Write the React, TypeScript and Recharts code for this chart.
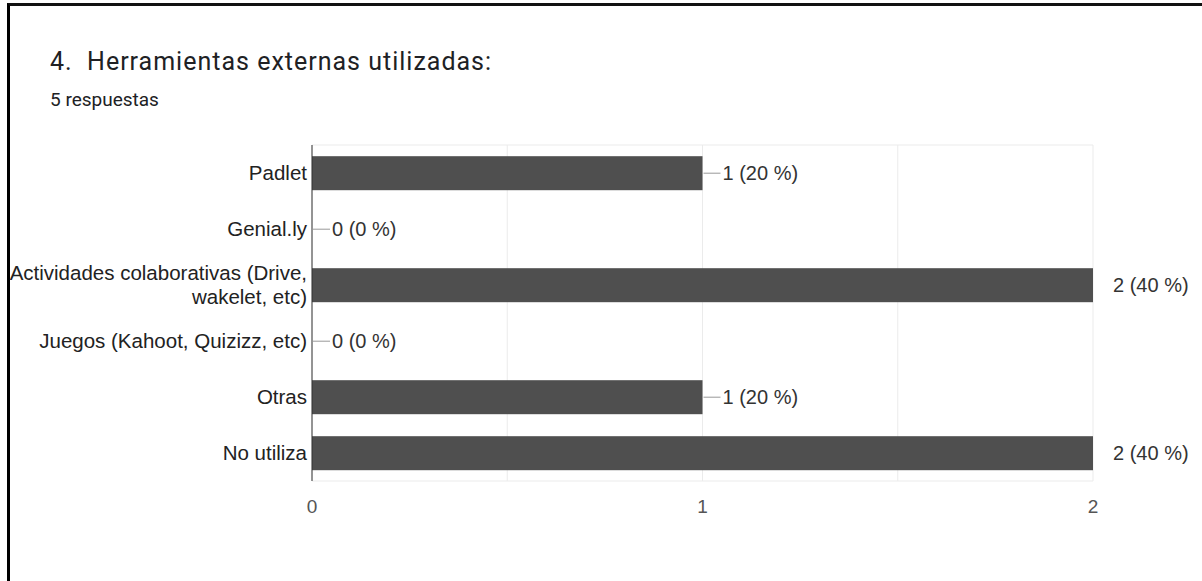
import { BarChart, Bar, XAxis, YAxis, CartesianGrid } from 'recharts';

const categories = [
  'Padlet',
  'Genial.ly',
  'Actividades colaborativas (Drive, wakelet, etc)',
  'Juegos (Kahoot, Quizizz, etc)',
  'Otras',
  'No utiliza',
];
const counts = [1, 0, 2, 0, 1, 2];
const totalResponses = 5;
const xTicks = [0, 0.5, 1, 1.5, 2];

const data = categories.map((name, i) => ({ name, value: counts[i] }));
const maxValue = Math.max(...counts);
const labelFont = "'Liberation Sans', Arial, sans-serif";

// split long category names into lines of at most ~34 chars
function wrap(text: string, maxChars = 34) {
  const words = text.split(' ');
  const lines: string[] = [];
  let cur = '';
  words.forEach(w => {
    const next = cur ? cur + ' ' + w : w;
    if (next.length > maxChars && cur) {
      lines.push(cur);
      cur = w;
    } else {
      cur = next;
    }
  });
  if (cur) lines.push(cur);
  return lines;
}

function CategoryTick(props: any) {
  const { x, y, payload } = props;
  const lines = wrap(payload.value);
  const lh = 24;
  const startY = y - ((lines.length - 1) * lh) / 2;
  return (
    <text x={x} y={startY} textAnchor="end" fill="#222" fontSize={20.5} fontFamily={labelFont}>
      {lines.map((l, i) => (
        <tspan key={i} x={x} dy={i === 0 ? '0.36em' : lh}>{l}</tspan>
      ))}
    </text>
  );
}

// bar + the "—n (p %)" label, drawn together so zero rows still get a label
function BarWithLabel(props: any) {
  const { x, y, width, height, payload, fill } = props;
  const value = payload.value;
  const endX = x + width;
  const cy = y + height / 2;
  const pct = Math.round((value / totalResponses) * 100);
  return (
    <g>
      {width > 0 && <rect x={x} y={y} width={width} height={height} fill={fill} />}
      {value < maxValue && (
        <line x1={endX + 1} y1={cy} x2={endX + 18} y2={cy} stroke="#999" strokeWidth={1} />
      )}
      <text x={endX + 20} y={cy} dy="0.36em" fill="#333" fontSize={20} fontFamily={labelFont}>
        {`${value} (${pct} %)`}
      </text>
    </g>
  );
}

export default function App() {
  return (
    <div style={{ position: 'absolute', left: 0, top: 0, width: 1202, height: 581, background: '#fff', overflow: 'hidden' }}>
      <div style={{ position: 'absolute', left: 7, top: 3, width: 1210, height: 576, borderLeft: '3px solid #000', borderTop: '3px solid #111', borderBottom: '2px solid #666' }} />
      <div style={{ position: 'absolute', left: 50, top: 47, fontFamily: 'Roboto, sans-serif', fontSize: 25, letterSpacing: 1, color: '#202124', whiteSpace: 'pre' }}>
        {'4.  Herramientas externas utilizadas:'}
      </div>
      <div style={{ position: 'absolute', left: 50, top: 88, fontFamily: 'Roboto, sans-serif', fontSize: 19, color: '#202124' }}>
        5 respuestas
      </div>
      <div style={{ position: 'absolute', left: 0, top: 0 }}>
        <BarChart
          width={1202}
          height={581}
          data={data}
          layout="vertical"
          margin={{ top: 145, right: 109, bottom: 70, left: 0 }}
          barCategoryGap="20%"
        >
          <CartesianGrid stroke="#ebebeb" horizontalPoints={[145, 481]} />
          <XAxis
            type="number"
            domain={[0, 2]}
            ticks={xTicks}
            tickFormatter={(v: number) => (Number.isInteger(v) ? String(v) : '')}
            axisLine={false}
            tickLine={false}
            tickMargin={13}
            height={30}
            tick={{ fill: '#555', fontSize: 19, fontFamily: labelFont }}
          />
          <YAxis
            type="category"
            dataKey="name"
            width={312}
            axisLine={{ stroke: '#333' }}
            tickLine={false}
            tickSize={0}
            tickMargin={5}
            tick={<CategoryTick />}
            interval={0}
          />
          <Bar dataKey="value" fill="#4f4f4f" isAnimationActive={false} shape={<BarWithLabel />} />
        </BarChart>
      </div>
    </div>
  );
}
